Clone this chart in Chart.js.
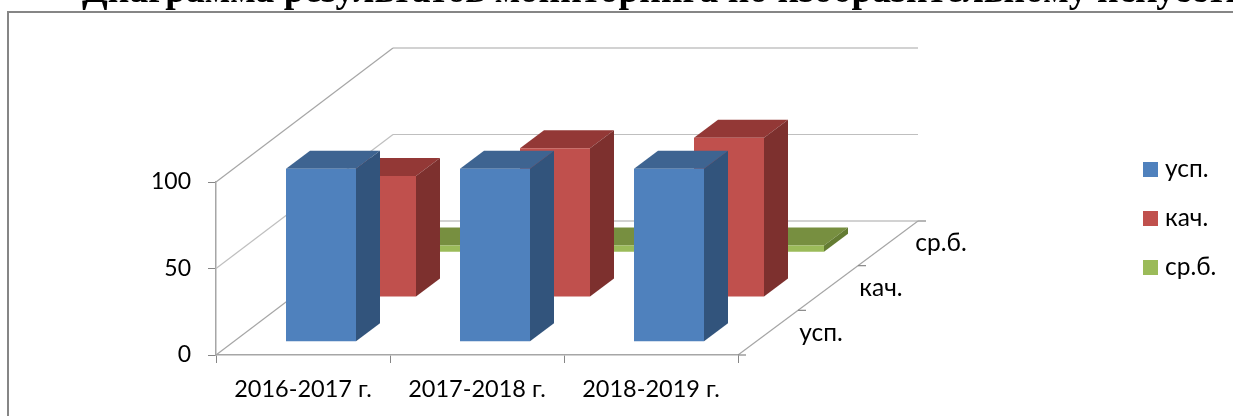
<!DOCTYPE html>
<html><head><meta charset="utf-8">
<style>html,body{margin:0;padding:0;background:#fff;overflow:hidden}canvas{display:block}</style>
<script src="https://cdn.jsdelivr.net/npm/chart.js@4"></script>
</head><body><canvas id="c" width="1233" height="416"></canvas>
<script>
const titleText = 'Диаграмма результатов мониторинга по изобразительному искусству';
const categories = ['2016-2017 г.', '2017-2018 г.', '2018-2019 г.'];
const seriesNames = ['усп.', 'кач.', 'ср.б.'];
const uspValues = [100, 100, 100];
const kachValues = [70, 86, 92];
const srbValues = [4, 4, 4];
const yTicks = [0, 50, 100];

const FONT = 'Lato';
const WALL_DEPTH = {x: 177, y: -134};
const FLOOR_DEPTH = {x: 180, y: -134};
const BAR_DEPTH = {x: 24, y: -18};
const shades = [
  {front: '#4F81BD', top: '#3E6491', side: '#32547C'},
  {front: '#C0504D', top: '#933836', side: '#7D302E'},
  {front: '#9BBB59', top: '#778F40', side: '#647C33'}
];
const swatch = color => {
  const s = document.createElement('canvas');
  s.width = 15; s.height = 15;
  const g = s.getContext('2d');
  g.fillStyle = color; g.fillRect(0, 0, 15, 15);
  return s;
};
const swatches = shades.map(c => swatch(c.front));
const rowOffset = i => ({
  x: (i + 0.5) / seriesNames.length * FLOOR_DEPTH.x - BAR_DEPTH.x / 2,
  y: (i + 0.5) / seriesNames.length * FLOOR_DEPTH.y - BAR_DEPTH.y / 2
});
const line = (ctx, x1, y1, x2, y2) => { ctx.beginPath(); ctx.moveTo(x1, y1); ctx.lineTo(x2, y2); ctx.stroke(); };

const drawFrame = chart => {
  const {ctx, width, height} = chart;
  ctx.save();
  ctx.fillStyle = '#fff';
  ctx.fillRect(9, 12, width, 5);
  ctx.strokeStyle = '#868686';
  ctx.lineWidth = 2;
  ctx.beginPath();
  ctx.moveTo(8, height + 2); ctx.lineTo(8, 12); ctx.lineTo(width + 2, 12);
  ctx.stroke();
  ctx.restore();
};

const scene3d = {
  id: 'scene3d',
  afterLayout(chart) {
    const t = chart.titleBlock;
    t.left = 82; t.right = 5000; t.top = -30; t.bottom = 15;
    const l = chart.legend;
    l.left = 1123.75; l.right = 1233; l.top = 132.75; l.bottom = 416;
  },
  beforeDraw(chart) {
    chart.ctx.save();
    chart.ctx.fillStyle = '#fff';
    chart.ctx.fillRect(0, 0, chart.width, chart.height);
    chart.ctx.restore();
  },
  afterDraw: drawFrame,
  beforeDatasetsDraw(chart) {
    const {ctx, chartArea: a, scales} = chart;
    ctx.save();
    ctx.lineWidth = 1.2;
    yTicks.forEach(v => {
      const y = scales.y.getPixelForValue(v);
      ctx.strokeStyle = v === 50 ? '#bfbfbf' : '#a6a6a6';
      line(ctx, a.left, y, a.left + WALL_DEPTH.x, y + WALL_DEPTH.y);
      line(ctx, a.left + WALL_DEPTH.x, y + WALL_DEPTH.y, a.right + FLOOR_DEPTH.x, y + WALL_DEPTH.y);
    });
    ctx.strokeStyle = '#a6a6a6';
    line(ctx, a.right, a.bottom, a.right + FLOOR_DEPTH.x, a.bottom + FLOOR_DEPTH.y);
    ctx.strokeStyle = '#868686';
    seriesNames.forEach((name, i) => {
      const f = i / seriesNames.length;
      const x = a.right + f * FLOOR_DEPTH.x, y = a.bottom + f * FLOOR_DEPTH.y;
      line(ctx, x, y, x + 8, y);
    });
    line(ctx, a.right + FLOOR_DEPTH.x, a.bottom + FLOOR_DEPTH.y, a.right + FLOOR_DEPTH.x + 8, a.bottom + FLOOR_DEPTH.y);
    ctx.fillStyle = '#000';
    ctx.font = '24.5px ' + FONT;
    ctx.textAlign = 'center';
    ctx.textBaseline = 'middle';
    seriesNames.forEach((name, i) => {
      const f = (i + 0.5) / seriesNames.length;
      ctx.fillText(name, a.right + f * FLOOR_DEPTH.x + 53, a.bottom + f * FLOOR_DEPTH.y);
    });
    ctx.restore();
  },
  beforeDatasetDraw(chart, args) {
    const {ctx} = chart;
    const o = rowOffset(args.index), c = shades[args.index];
    ctx.save();
    ctx.translate(o.x, o.y);
    args.meta.data.forEach(el => {
      const {x, y, base, width} = el.getProps(['x', 'y', 'base', 'width'], true);
      const l = x - width / 2, r = x + width / 2, dx = BAR_DEPTH.x, dy = BAR_DEPTH.y;
      ctx.fillStyle = c.top;
      ctx.beginPath();
      ctx.moveTo(l, y); ctx.lineTo(l + dx, y + dy); ctx.lineTo(r + dx, y + dy); ctx.lineTo(r, y);
      ctx.closePath(); ctx.fill();
      ctx.fillStyle = c.side;
      ctx.beginPath();
      ctx.moveTo(r, y); ctx.lineTo(r + dx, y + dy); ctx.lineTo(r + dx, base + dy); ctx.lineTo(r, base);
      ctx.closePath(); ctx.fill();
    });
  },
  afterDatasetDraw(chart) { chart.ctx.restore(); }
};

const seriesValues = [uspValues, kachValues, srbValues];
new Chart(document.getElementById('c'), {
  type: 'bar',
  data: {
    labels: categories,
    datasets: seriesNames.map((name, i) => ({
      label: name,
      data: seriesValues[i],
      backgroundColor: shades[i].front,
      borderWidth: 0,
      clip: false
    }))
  },
  options: {
    responsive: false,
    animation: false,
    events: [],
    grouped: false,
    barPercentage: 70 / 174,
    categoryPercentage: 1,
    layout: {autoPadding: false, padding: {left: 0, right: 435, top: 137, bottom: 0}},
    scales: {
      x: {
        type: 'category',
        afterFit: s => { s.height = 61; },
        grid: {drawOnChartArea: false, drawTicks: true, tickLength: 8, color: '#868686', lineWidth: 1},
        border: {color: '#a6a6a6', width: 1.5},
        ticks: {color: '#000', font: {family: FONT, size: 23.5}, padding: 12, autoSkip: false, maxRotation: 0}
      },
      y: {
        type: 'linear',
        min: 0, max: 100,
        afterFit: s => { s.width = 216; },
        afterBuildTicks: s => { s.ticks = yTicks.map(v => ({value: v})); },
        grid: {drawOnChartArea: false, drawTicks: true, tickLength: 8, color: '#868686', lineWidth: 1},
        border: {color: '#a6a6a6', width: 1.5},
        ticks: {color: '#000', font: {family: FONT, size: 23}, padding: 17}
      }
    },
    plugins: {
      title: {display: true, text: titleText, align: 'start', color: '#000', padding: 0,
        font: {family: 'Liberation Serif', size: 37.5, weight: 'bold'}},
      legend: {position: 'right', align: 'start', maxWidth: 60,
        labels: {
          usePointStyle: true, pointStyleWidth: 4.5, boxWidth: 15, boxHeight: 15, padding: 24.5,
          color: '#000', font: {family: FONT, size: 24.5},
          generateLabels(chart) {
            return Chart.defaults.plugins.legend.labels.generateLabels(chart).map((item, i) => ({...item, pointStyle: swatches[i]}));
          }
        }},
      tooltip: {enabled: false}
    }
  },
  plugins: [scene3d]
});
</script></body></html>
